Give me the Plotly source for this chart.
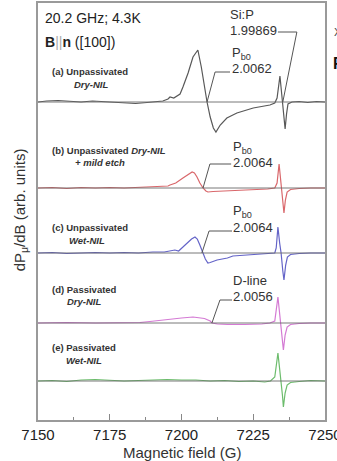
import plotly.graph_objects as go

# ---------------- data ----------------
field_a = [7150, 7153, 7157, 7161, 7165, 7169, 7173, 7177, 7180, 7184, 7188, 7191, 7193.5, 7195.3,
           7196.0, 7197.3, 7199.5, 7200.5, 7202.3, 7204.0, 7205.7, 7206.9, 7208.2, 7208.9, 7210.0,
           7211.1, 7212.0, 7213.5, 7215.8, 7219.3, 7225.0, 7230.8, 7232.5, 7233.3, 7234.3, 7234.8,
           7235.2, 7235.7, 7236.1, 7236.6, 7237.1, 7238.5, 7241, 7244, 7247, 7250]
sig_a = [0, 1, 1.5, 0.5, 0, 1, 0.5, -0.5, -1, -1.5, -0.5, 0.5, 1, 3,
         5, 4, 8, 15, 29, 45, 52, 35, 12, 0, -15,
         -26, -30, -23, -16, -11, -6, -3, -1, 4, 26, 10,
         0, -20, -27, -12, -2, 0, 0.5, -0.5, 0.5, 0]

field_b = [7150, 7155, 7160, 7165, 7170, 7175, 7180, 7185, 7190, 7195.3, 7196.0, 7198.0, 7200.5,
           7202.5, 7203.7, 7204.5, 7205.4, 7206.4, 7207.5, 7208.5, 7209.2, 7211, 7215, 7220, 7225,
           7230, 7232.5, 7233.3, 7234.0, 7234.6, 7235.0, 7235.4, 7235.7, 7236.2, 7236.8, 7238,
           7241, 7245, 7250]
sig_b = [0, 0.5, -0.5, 0.5, 0, 0.5, 0, 0.5, 1, 2, 3, 5, 10,
         14, 16, 15, 11, 5, 0, -3, -4, -3.5, -3, -2, -1.5,
         -1, 0, 5, 24, 8, 0, -15, -25, -12, -4, -1.5,
         -0.5, 0, 0]

field_c = [7150, 7155, 7160, 7165, 7170, 7175, 7180, 7185, 7190, 7194, 7197.7, 7199, 7201.9,
           7203.5, 7204.7, 7205.5, 7206.4, 7207.1, 7207.5, 7208.3, 7209.2, 7210, 7212.4, 7216,
           7217.9, 7223.9, 7229.8, 7232.5, 7233.0, 7233.6, 7234.2, 7234.7, 7235.3, 7235.7, 7236.3,
           7236.9, 7238, 7241, 7245, 7250]
sig_c = [0, 0.5, -0.5, 0, 0.5, 0, 0.5, 0, 1, 1, 3, 2, 10,
         14, 16, 14, 8, 2, 0, -6, -10, -9.5, -7, -5,
         -3, -2, -1, 0, 5, 26, 10, 0, -18, -27, -12,
         -4, -1.5, -0.5, 0, 0]

field_d = [7150, 7160, 7170, 7180, 7185.5, 7189, 7193, 7196, 7200, 7204, 7206.4, 7208, 7210,
           7210.6, 7212.5, 7216, 7222, 7228, 7230.8, 7232.5, 7233.6, 7234.2, 7234.6, 7235.2,
           7235.5, 7236.1, 7236.8, 7238, 7241, 7245, 7250]
sig_d = [0, 0.5, 0, 0.5, 0.5, 1.5, 3, 4, 5, 6, 5.5, 4.5, 2,
         0, -1, -1.5, -1.5, -1, 0, 2, 26, 10, 0, -18,
         -27, -12, -4, -1.5, -0.5, 0, 0]

field_e = [7150, 7155, 7160, 7165, 7170, 7175, 7180, 7185, 7190, 7195, 7200, 7205, 7210, 7215,
           7220, 7225, 7229, 7231, 7232.5, 7233.6, 7234.2, 7234.7, 7235.2, 7235.5, 7236.1, 7236.8,
           7238, 7241, 7245, 7250]
sig_e = [0, 0.5, -0.5, 1, 1.5, 0.5, 0, 0.5, 1, 1.5, 1, 1, 0, 0.5,
         -0.5, 0, -1, 0, 4, 28, 12, 0, -15, -26, -12, -4,
         -1.5, -0.5, 0.5, 0]

fields = [field_a, field_b, field_c, field_d, field_e]
signals = [sig_a, sig_b, sig_c, sig_d, sig_e]
offsets = [318, 232, 167, 97, 39]
colors = ["#585858", "#d9676b", "#6464c8", "#d47ad4", "#6cbc6c"]

x_ticks = [7150, 7175, 7200, 7225, 7250]
x_tick_labels = ["7150", "7175", "7200", "7225", "7250"]

# leader lines (field, height) and their labels
leaders = [
    ([7208.9, 7211.7, 7216.9], [318, 348, 348]),
    ([7235.3, 7240.2, 7233.6], [318, 388, 388]),
    ([7207.5, 7209.9, 7217.3], [232, 256, 256]),
    ([7207.1, 7209.6, 7217.6], [167, 189, 189]),
    ([7210.6, 7213.4, 7217.6], [97, 120, 120]),
]
peak_names = ["Si:P", "P<sub>b0</sub>", "P<sub>b0</sub>", "P<sub>b0</sub>", "D-line"]
peak_g = ["1.99869", "2.0062", "2.0064", "2.0064", "2.0056"]
name_pos = [(7216.3, 406), (7217.0, 367), (7217.3, 273), (7217.3, 209), (7217.3, 140)]
g_pos = [(7216.3, 390), (7217.0, 352), (7217.3, 258), (7217.3, 193), (7217.3, 124)]

sample_lines = [
    ("<b>(a) Unpassivated</b>", 7154.2, 349, "left"),
    ("<b><i>Dry-NIL</i></b>", 7168.6, 336, "center"),
    ("<b>(b) Unpassivated <i>Dry-NIL</i></b>", 7154.2, 270, "left"),
    ("<b><i>+ mild etch</i></b>", 7171.6, 258, "center"),
    ("<b>(c) Unpassivated</b>", 7154.2, 193, "left"),
    ("<b><i>Wet-NIL</i></b>", 7167.1, 180, "center"),
    ("<b>(d) Passivated</b>", 7154.2, 131, "left"),
    ("<b><i>Dry-NIL</i></b>", 7166.2, 119, "center"),
    ("<b>(e) Passivated</b>", 7154.2, 73, "left"),
    ("<b><i>Wet-NIL</i></b>", 7165.9, 60, "center"),
]

FONT = "Arial, Liberation Sans, sans-serif"

fig = go.Figure()
for f, s, off, c in zip(fields, signals, offsets, colors):
    fig.add_trace(go.Scatter(x=f, y=[off + v for v in s], mode="lines",
                             line=dict(color=c, width=1.2), showlegend=False, hoverinfo="skip"))
for off in offsets:
    fig.add_trace(go.Scatter(x=[7150, 7250], y=[off, off], mode="lines",
                             line=dict(color="#6a6a6a", width=0.9), showlegend=False, hoverinfo="skip"))
for lx, ly in leaders:
    fig.add_trace(go.Scatter(x=lx, y=ly, mode="lines",
                             line=dict(color="#555555", width=1), showlegend=False, hoverinfo="skip"))

ann = []
for name, g, (nx, ny), (gx, gy) in zip(peak_names, peak_g, name_pos, g_pos):
    ann.append(dict(x=nx, y=ny, xref="x", yref="y", text=name, showarrow=False,
                    xanchor="left", yanchor="middle", font=dict(size=13, color="#333", family=FONT)))
    ann.append(dict(x=gx, y=gy, xref="x", yref="y", text=g, showarrow=False,
                    xanchor="left", yanchor="middle", font=dict(size=13, color="#333", family=FONT)))
for txt, sx, sy, anc in sample_lines:
    ann.append(dict(x=sx, y=sy, xref="x", yref="y", text=txt, showarrow=False,
                    xanchor=anc, yanchor="middle", font=dict(size=9.5, color="#333", family=FONT)))

ann.append(dict(x=7151.7, y=402, xref="x", yref="y", text="20.2 GHz; 4.3K", showarrow=False,
                xanchor="left", yanchor="middle", font=dict(size=14, color="#222", family=FONT)))
ann.append(dict(x=7151.7, y=378, xref="x", yref="y",
                text="<b>B</b><span style='color:#aaa'>||</span><b>n</b> ([100])", showarrow=False,
                xanchor="left", yanchor="middle", font=dict(size=14, color="#222", family=FONT)))
ann.append(dict(x=-0.063, y=0.505, xref="paper", yref="paper",
                text="dP<sub>μ</sub>/dB (arb. units)", textangle=-90, showarrow=False,
                xanchor="center", yanchor="middle", font=dict(size=15, color="#333", family=FONT)))
ann.append(dict(x=0.5, y=-0.077, xref="paper", yref="paper", text="Magnetic field (G)",
                showarrow=False, xanchor="center", yanchor="middle",
                font=dict(size=15, color="#333", family=FONT)))
# cut-off glyphs from the neighbouring panel at the right edge
ann.append(dict(x=1.025, y=0.93, xref="paper", yref="paper", text="X", showarrow=False,
                xanchor="left", yanchor="middle", font=dict(size=11, color="#444", family=FONT)))
ann.append(dict(x=1.022, y=0.855, xref="paper", yref="paper", text="<b>F</b>", showarrow=False,
                xanchor="left", yanchor="middle", font=dict(size=16, color="#111", family=FONT)))

fig.update_layout(
    width=337, height=461,
    margin=dict(l=38, r=12, t=3, b=41, autoexpand=False),
    paper_bgcolor="white", plot_bgcolor="white",
    annotations=ann,
    xaxis=dict(range=[7150, 7250], tickvals=x_ticks, ticktext=x_tick_labels,
               ticks="inside", ticklen=6, tickwidth=1, tickcolor="#888",
               minor=dict(ticks="inside", ticklen=3, tickcolor="#888", dtick=12.5, tick0=7150),
               showline=True, linecolor="#9a9a9a", linewidth=1.5, mirror=True,
               showgrid=False, zeroline=False, ticklabeloverflow="allow",
               tickfont=dict(size=15, color="#222", family=FONT)),
    yaxis=dict(range=[0, 417], showticklabels=False, ticks="",
               showline=True, linecolor="#9a9a9a", linewidth=1.5, mirror=True,
               showgrid=False, zeroline=False),
)

fig.write_html("out.html", config={"displayModeBar": False},
               post_script="document.body.style.margin='0px';document.body.style.overflow='hidden';")
